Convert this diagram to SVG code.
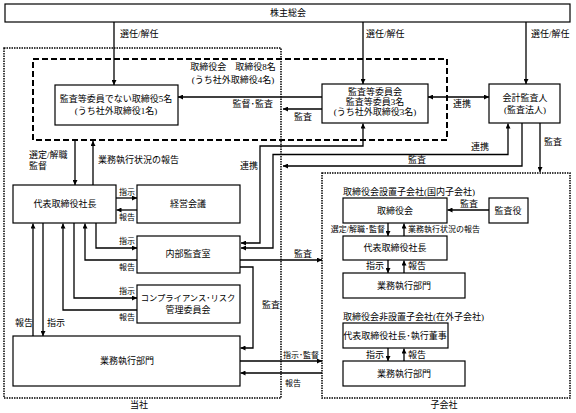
<svg xmlns="http://www.w3.org/2000/svg" width="576" height="413" viewBox="0 0 576 413">
<defs>
<marker id="a" viewBox="0 0 6 6" refX="6" refY="3" markerWidth="5" markerHeight="5" markerUnits="userSpaceOnUse" orient="auto-start-reverse"><path d="M0,0 L6,3 L0,6 z" fill="#000"/></marker>
</defs>
<style>
text{font-family:"Liberation Serif","Noto Sans CJK JP",serif;font-size:9px;fill:#000;dominant-baseline:central}
.m{text-anchor:middle}
.e{text-anchor:end}
.s{font-size:8px}
.box{fill:#fff;stroke:#000;stroke-width:1.2}
.c{fill:none;stroke:#000;stroke-width:1.3}
.ar{marker-end:url(#a)}
.ab{marker-start:url(#a);marker-end:url(#a)}
.dot{fill:none;stroke:#000;stroke-width:1.5;stroke-dasharray:1.5 1}
.dash{fill:none;stroke:#000;stroke-width:2;stroke-dasharray:6 3}
</style>
<rect width="576" height="413" fill="#fff"/>

<g id="tousha-frame"><rect class="dot" x="4" y="48" width="277" height="350"/><text class="m" x="139" y="405">当社</text></g>
<g id="kogaisha-frame"><rect class="dot" x="322" y="173" width="248" height="225"/><text class="m" x="444" y="405">子会社</text></g>
<g id="board-frame"><rect class="dash" x="33" y="59" width="414" height="81"/><text class="m" x="233" y="67">取締役会　取締役8名</text><text class="m" x="233" y="80">(うち社外取締役4名)</text></g>

<g id="connectors">
<path class="c ar" d="M114,22 V85"/>
<path class="c ar" d="M363,22 V84"/>
<path class="c ar" d="M526,22 V84"/>
<path class="c ar" d="M322,97 H178"/>
<path class="c ar" d="M322,109 H283"/>
<path class="c ab" d="M428,97 H489"/>
<path class="c ar" d="M540,123 V172"/>
<path class="c ar" d="M522,123 V166 H283"/>
<path class="c ab" d="M241,243 H260 V146 H363 V123.5"/>
<path class="c ab" d="M241,248 H273 V154.5 H508 V123.5"/>
<path class="c ar" d="M75,140 V185"/>
<path class="c ar" d="M93,185 V141"/>
<path class="c ar" d="M116,198 H137"/>
<path class="c ar" d="M137,210 H116.5"/>
<path class="c ar" d="M96,223 V248 H137"/>
<path class="c ar" d="M137,260 H85 V223.5"/>
<path class="c ar" d="M74,223 V298 H137"/>
<path class="c ar" d="M137,310 H63 V223.5"/>
<path class="c ar" d="M33,336 V223.5"/>
<path class="c ar" d="M43,223 V336"/>
<path class="c ar" d="M240,267 H253 V348 H240.5"/>
<path class="c ar" d="M240,260 H322"/>
<path class="c ar" d="M240,361 H322"/>
<path class="c ar" d="M322,373 H240.5"/>
<path class="c ar" d="M489,210 H447.5"/>
<path class="c ar" d="M388,223 V236"/>
<path class="c ar" d="M404,236 V223.5"/>
<path class="c ar" d="M388,260 V273"/>
<path class="c ar" d="M404,273 V260.5"/>
<path class="c ar" d="M388,348 V361"/>
<path class="c ar" d="M404,361 V348.5"/>
<text x="120" y="34">選任/解任</text>
<text x="366" y="34">選任/解任</text>
<text x="531" y="34">選任/解任</text>
<text class="e" x="273" y="104">監督･監査</text>
<text x="294" y="117">監査</text>
<text x="453" y="104">連携</text>
<text x="544" y="142">監査</text>
<text x="408" y="160">監査</text>
<text x="471" y="147">連携</text>
<text x="240" y="166">連携</text>
<text x="29" y="155">選定/解職</text>
<text x="29" y="166">監督</text>
<text x="98" y="160">業務執行状況の報告</text>
<text class="s" x="119" y="192">指示</text>
<text class="s" x="119" y="217">報告</text>
<text class="s" x="119" y="241">指示</text>
<text class="s" x="119" y="267">報告</text>
<text class="s" x="119" y="291">指示</text>
<text class="s" x="119" y="317">報告</text>
<text x="15" y="323">報告</text>
<text x="47" y="323">指示</text>
<text x="262" y="305">監査</text>
<text x="294" y="254">監査</text>
<text class="s" x="283" y="355">指示･監督</text>
<text class="s" x="285" y="383">報告</text>
<text class="m" x="469" y="204">監査</text>
<text class="e s" x="385" y="229">選定/解職･監督</text>
<text class="s" x="408" y="229">業務執行状況の報告</text>
<text class="e" x="384" y="266">指示</text>
<text x="408" y="266">報告</text>
<text class="e" x="384" y="355">指示</text>
<text x="408" y="355">報告</text>
</g>

<g id="kabunushi"><rect class="box" x="5" y="4" width="565" height="18"/><text class="m" x="288" y="13">株主総会</text></g>
<g id="torishimariyaku5"><rect class="box" x="55" y="85" width="123" height="40"/><text class="m" x="116" y="99">監査等委員でない取締役5名</text><text class="m" x="116" y="111">(うち社外取締役1名)</text></g>
<g id="kansatoiinkai"><rect class="box" x="322" y="84" width="106" height="39"/><text class="m" x="375" y="92">監査等委員会</text><text class="m" x="375" y="102">監査等委員3名</text><text class="m" x="375" y="112">(うち社外取締役3名)</text></g>
<g id="kaikeikansanin"><rect class="box" x="489" y="84" width="71" height="39"/><text class="m" x="525" y="98">会計監査人</text><text class="m" x="525" y="110">(監査法人)</text></g>
<g id="daihyo"><rect class="box" x="13" y="185" width="103" height="38"/><text class="m" x="65" y="204">代表取締役社長</text></g>
<g id="keieikaigi"><rect class="box" x="137" y="185" width="103" height="38"/><text class="m" x="188" y="204">経営会議</text></g>
<g id="naibukansa"><rect class="box" x="137" y="236" width="103" height="37"/><text class="m" x="188" y="254">内部監査室</text></g>
<g id="compliance"><rect class="box" x="137" y="285" width="103" height="38"/><text class="m" x="188" y="298" style="font-size:8.3px">コンプライアンス･リスク</text><text class="m" x="188" y="310">管理委員会</text></g>
<g id="gyomu"><rect class="box" x="13" y="336" width="227" height="50"/><text class="m" x="127" y="361">業務執行部門</text></g>

<g id="sub-domestic"><text x="343" y="192">取締役会設置子会社(国内子会社)</text></g>
<g id="sub-torishimariyakukai"><rect class="box" x="343" y="198" width="104" height="25"/><text class="m" x="395" y="211">取締役会</text></g>
<g id="sub-kansayaku"><rect class="box" x="489" y="198" width="39" height="25"/><text class="m" x="508" y="211">監査役</text></g>
<g id="sub-daihyo"><rect class="box" x="343" y="236" width="104" height="24"/><text class="m" x="395" y="248">代表取締役社長</text></g>
<g id="sub-gyomu"><rect class="box" x="343" y="273" width="122" height="25"/><text class="m" x="404" y="286">業務執行部門</text></g>
<g id="sub-foreign"><text x="343" y="317">取締役会非設置子会社(在外子会社)</text></g>
<g id="sub-daihyo2"><rect class="box" x="343" y="323" width="105" height="25"/><text class="m" x="395" y="336">代表取締役社長･執行董事</text></g>
<g id="sub-gyomu2"><rect class="box" x="343" y="361" width="122" height="25"/><text class="m" x="404" y="374">業務執行部門</text></g>
</svg>
